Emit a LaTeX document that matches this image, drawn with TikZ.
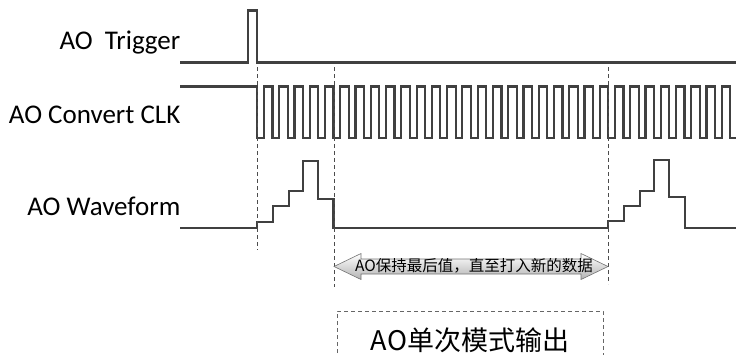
\documentclass[tikz,border=0pt]{standalone}
\usepackage{fontspec}
\setmainfont{Carlito}
\newfontfamily\cjk{Noto Sans CJK SC}
\begin{document}
\begin{tikzpicture}[x=1pt,y=-1pt,
  sig/.style={draw=black!75, line width=2.2pt, line join=miter},
  guide/.style={draw=black!70, line width=0.9pt, dash pattern=on 4pt off 3pt},
  lbl/.style={anchor=base east, inner sep=0pt, font=\fontsize{27}{31}\selectfont, text=black}]
\useasboundingbox (0,0) rectangle (736,354);

% labels
\node[lbl] (ltrig) at (180.5,49) {AO\ \ Trigger};
\node[lbl] (lclk)  at (180.5,123.3) {AO Convert CLK};
\node[lbl] (lwave) at (180.5,215) {AO Waveform};

% trigger
\draw[sig] (180,62.5) -- (248.3,62.5) -- (248.3,10.5) -- (256.7,10.5) -- (256.7,62.5) -- (736,62.5);

% convert clock
\draw[sig] (180,86.5) -- (257,86.5) -- (257,138.3)
  foreach \k in {0,...,30} {
    -- ({264+15.26*\k},138.3) -- ({264+15.26*\k},86.5)
    -- ({272.5+15.26*\k},86.5) -- ({272.5+15.26*\k},138.3)
  } -- (736,138.3);

% waveform
\draw[sig] (180,228.3) -- (257,228.3) -- (257,221.7) -- (273.3,221.7) -- (273.3,206)
  -- (289.3,206) -- (289.3,191) -- (303.3,191) -- (303.3,161) -- (318.3,161)
  -- (318.3,199) -- (333.5,199) -- (333.5,228.3) -- (608.3,228.3) -- (608.3,221)
  -- (624.3,221) -- (624.3,205.7) -- (640,205.7) -- (640,190.7) -- (654,190.7)
  -- (654,160) -- (669,160) -- (669,197.3) -- (685,197.3) -- (685,228.3) -- (736,228.3);

% guide lines
\coordinate (g1t) at (257,67);   \coordinate (g1b) at (257,250);
\coordinate (g2t) at (334,67);   \coordinate (g2b) at (334,287);
\coordinate (g3t) at (608,67);   \coordinate (g3b) at (608,284);
\draw[guide] (g1t) -- (g1b);
\draw[guide] (g2t) -- (g2b);
\draw[guide] (g3t) -- (g3b);

% double arrow
\shade[top color=white, bottom color=black!30, draw=black!55, line width=0.6pt]
  (334,266.5) -- (361,253.5) -- (361,259) -- (581,259) -- (581,253.5) -- (608,266.5)
  -- (581,279.5) -- (581,274) -- (361,274) -- (361,279.5) -- cycle;
\node[inner sep=0pt, font=\cjk\fontsize{15.5}{18}\selectfont] (hold) at (474,265.5) {AO保持最后值，直至打入新的数据};

% mode box
\draw[draw=black!60, line width=0.8pt, dash pattern=on 4pt off 3pt] (337,360) -- (337,311) -- (603,311) -- (603,360);
\node[inner sep=0pt, font=\cjk\fontsize{27}{32}\selectfont] (mode) at (470,340) {AO单次模式输出};
\end{tikzpicture}
\end{document}
